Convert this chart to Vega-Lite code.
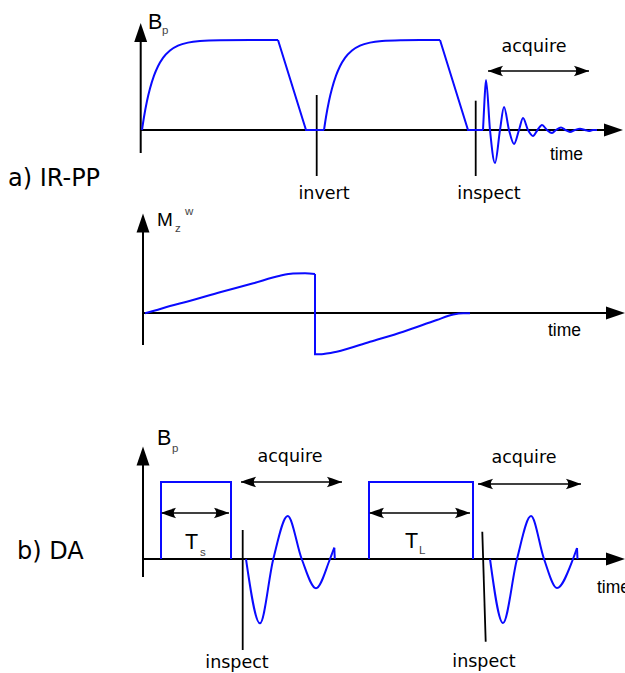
{
  "$schema": "https://vega.github.io/schema/vega-lite/v6.json",
  "width": 625,
  "height": 673,
  "padding": 0,
  "autosize": {"type": "none"},
  "background": "white",
  "config": {"view": {"stroke": null}},
  "datasets": {
    "smooth": [
      {"s": "r1", "x": 142, "y": 130}, {"s": "r1", "x": 144, "y": 117}, {"s": "r1", "x": 147, "y": 101}, {"s": "r1", "x": 150, "y": 88.6}, {"s": "r1", "x": 154, "y": 75.7}, {"s": "r1", "x": 158, "y": 66.3}, {"s": "r1", "x": 163, "y": 57.9}, {"s": "r1", "x": 170, "y": 50.5}, {"s": "r1", "x": 178, "y": 45.7}, {"s": "r1", "x": 188, "y": 42.6}, {"s": "r1", "x": 200, "y": 41}, {"s": "r1", "x": 220, "y": 40.2}, {"s": "r1", "x": 250, "y": 40}, {"s": "r1", "x": 278, "y": 40},
      {"s": "r2", "x": 324, "y": 130}, {"s": "r2", "x": 326, "y": 117}, {"s": "r2", "x": 329, "y": 101}, {"s": "r2", "x": 332, "y": 88.6}, {"s": "r2", "x": 336, "y": 75.7}, {"s": "r2", "x": 340, "y": 66.3}, {"s": "r2", "x": 345, "y": 57.9}, {"s": "r2", "x": 352, "y": 50.5}, {"s": "r2", "x": 360, "y": 45.7}, {"s": "r2", "x": 370, "y": 42.6}, {"s": "r2", "x": 382, "y": 41}, {"s": "r2", "x": 402, "y": 40.2}, {"s": "r2", "x": 420, "y": 40}, {"s": "r2", "x": 440, "y": 40},
      {"s": "os", "x": 483, "y": 130}, {"s": "os", "x": 484.5, "y": 100}, {"s": "os", "x": 486, "y": 80}, {"s": "os", "x": 490, "y": 130}, {"s": "os", "x": 495, "y": 163}, {"s": "os", "x": 500, "y": 130}, {"s": "os", "x": 504, "y": 107}, {"s": "os", "x": 509, "y": 130}, {"s": "os", "x": 514, "y": 144}, {"s": "os", "x": 519, "y": 130}, {"s": "os", "x": 523, "y": 118}, {"s": "os", "x": 528, "y": 130}, {"s": "os", "x": 533, "y": 136}, {"s": "os", "x": 537.5, "y": 130}, {"s": "os", "x": 542, "y": 125}, {"s": "os", "x": 547, "y": 130}, {"s": "os", "x": 552, "y": 133}, {"s": "os", "x": 556, "y": 130}, {"s": "os", "x": 561, "y": 127.5}, {"s": "os", "x": 565.5, "y": 130}, {"s": "os", "x": 570, "y": 132}, {"s": "os", "x": 575, "y": 130}, {"s": "os", "x": 580, "y": 128.7}, {"s": "os", "x": 585, "y": 130}, {"s": "os", "x": 589, "y": 131}, {"s": "os", "x": 593, "y": 130}, {"s": "os", "x": 597, "y": 130},
      {"s": "m1", "x": 145, "y": 313.3}, {"s": "m1", "x": 155, "y": 310.5}, {"s": "m1", "x": 170, "y": 306}, {"s": "m1", "x": 186.7, "y": 301.7}, {"s": "m1", "x": 220, "y": 292.3}, {"s": "m1", "x": 253.3, "y": 283.3}, {"s": "m1", "x": 280, "y": 275.7}, {"s": "m1", "x": 293, "y": 273.6}, {"s": "m1", "x": 305, "y": 273.3}, {"s": "m1", "x": 315, "y": 274},
      {"s": "m3", "x": 322, "y": 354.3}, {"s": "m3", "x": 336.7, "y": 351.7}, {"s": "m3", "x": 370, "y": 341.7}, {"s": "m3", "x": 403.3, "y": 331.7}, {"s": "m3", "x": 436.7, "y": 320}, {"s": "m3", "x": 453.3, "y": 314.5}, {"s": "m3", "x": 463.3, "y": 313.3}, {"s": "m3", "x": 470, "y": 313.3},
      {"s": "o1", "x": 246, "y": 559}, {"s": "o1", "x": 260, "y": 623.3}, {"s": "o1", "x": 273.3, "y": 559}, {"s": "o1", "x": 287.7, "y": 516}, {"s": "o1", "x": 301.7, "y": 559}, {"s": "o1", "x": 316, "y": 588.3}, {"s": "o1", "x": 330, "y": 559}, {"s": "o1", "x": 334.3, "y": 547.7},
      {"s": "o2", "x": 490, "y": 559}, {"s": "o2", "x": 503, "y": 623}, {"s": "o2", "x": 517, "y": 559}, {"s": "o2", "x": 531, "y": 516}, {"s": "o2", "x": 544, "y": 559}, {"s": "o2", "x": 557, "y": 588}, {"s": "o2", "x": 573, "y": 559}, {"s": "o2", "x": 577, "y": 548}
    ],
    "straight": [
      {"s": "t1", "x": 278, "y": 40}, {"s": "t1", "x": 306, "y": 130}, {"s": "t1", "x": 324, "y": 130},
      {"s": "t2", "x": 440, "y": 40}, {"s": "t2", "x": 468, "y": 130}, {"s": "t2", "x": 483, "y": 130},
      {"s": "m2", "x": 315, "y": 274}, {"s": "m2", "x": 315, "y": 354.3}, {"s": "m2", "x": 322, "y": 354.3},
      {"s": "p1", "x": 161, "y": 559}, {"s": "p1", "x": 161, "y": 482}, {"s": "p1", "x": 231, "y": 482}, {"s": "p1", "x": 231, "y": 559},
      {"s": "p2", "x": 369, "y": 559}, {"s": "p2", "x": 369, "y": 482}, {"s": "p2", "x": 473, "y": 482}, {"s": "p2", "x": 473, "y": 559},
      {"s": "e1", "x": 334.3, "y": 547.7}, {"s": "e1", "x": 334.8, "y": 559},
      {"s": "e2", "x": 577, "y": 548}, {"s": "e2", "x": 577.5, "y": 559}
    ],
    "axes": [
      {"x1": 140.7, "y1": 153, "x2": 140.7, "y2": 41},
      {"x1": 140.7, "y1": 130, "x2": 604, "y2": 130},
      {"x1": 143, "y1": 345, "x2": 143, "y2": 232},
      {"x1": 143, "y1": 313, "x2": 607, "y2": 313},
      {"x1": 143, "y1": 577, "x2": 143, "y2": 465},
      {"x1": 143, "y1": 559, "x2": 607, "y2": 559}
    ],
    "markers": [
      {"x1": 316.7, "y1": 95, "x2": 316.7, "y2": 176},
      {"x1": 475.7, "y1": 100.7, "x2": 475.7, "y2": 176},
      {"x1": 242.7, "y1": 530, "x2": 242.7, "y2": 650},
      {"x1": 482.3, "y1": 531.7, "x2": 485.7, "y2": 641.7}
    ],
    "spans": [
      {"x1": 488, "x2": 589, "y": 71},
      {"x1": 161, "x2": 229, "y": 513},
      {"x1": 369, "x2": 470, "y": 513},
      {"x1": 241, "x2": 342, "y": 482},
      {"x1": 478, "x2": 581, "y": 484}
    ],
    "upheads": [
      {"x": 140.7, "y": 32.5}, {"x": 143, "y": 223}, {"x": 143, "y": 456}
    ],
    "rightaxisheads": [
      {"x": 613.5, "y": 130}, {"x": 615.5, "y": 313}, {"x": 615.5, "y": 559}
    ],
    "leftheads": [
      {"x": 496, "y": 71}, {"x": 169, "y": 513}, {"x": 377, "y": 513}, {"x": 249, "y": 482}, {"x": 486, "y": 484}
    ],
    "rightheads": [
      {"x": 581, "y": 71}, {"x": 221, "y": 513}, {"x": 462, "y": 513}, {"x": 334, "y": 482}, {"x": 573, "y": 484}
    ],
    "biglabels": [
      {"x": 8, "y": 186, "t": "a) IR-PP"},
      {"x": 17, "y": 559, "t": "b) DA"}
    ],
    "labels": [
      {"x": 324, "y": 199, "t": "invert"},
      {"x": 489, "y": 199, "t": "inspect"},
      {"x": 534, "y": 52, "t": "acquire"},
      {"x": 290, "y": 462, "t": "acquire"},
      {"x": 524, "y": 463, "t": "acquire"},
      {"x": 237, "y": 668, "t": "inspect"},
      {"x": 484, "y": 667, "t": "inspect"}
    ],
    "timelabels": [
      {"x": 550, "y": 160, "t": "time"},
      {"x": 548, "y": 336, "t": "time"},
      {"x": 597, "y": 593, "t": "time"}
    ],
    "bigsymbols": [
      {"x": 148, "y": 28.5, "t": "B"},
      {"x": 157, "y": 445, "t": "B"},
      {"x": 185, "y": 548.5, "t": "T"},
      {"x": 405, "y": 548, "t": "T"}
    ],
    "msymbols": [
      {"x": 157, "y": 226, "t": "M"}
    ],
    "subs": [
      {"x": 162, "y": 34, "t": "p"},
      {"x": 175, "y": 232, "t": "z"},
      {"x": 185, "y": 215, "t": "w"},
      {"x": 172, "y": 452, "t": "p"},
      {"x": 200, "y": 556, "t": "s"},
      {"x": 419, "y": 554, "t": "L"}
    ]
  },
  "layer": [
    {
      "data": {"name": "axes"},
      "mark": {"type": "rule", "color": "#000000", "strokeWidth": 2},
      "encoding": {
        "x": {"field": "x1", "type": "quantitative", "scale": {"domain": [0, 625], "nice": false, "zero": false}, "axis": null},
        "y": {"field": "y1", "type": "quantitative", "scale": {"domain": [0, 673], "reverse": true, "nice": false, "zero": false}, "axis": null},
        "x2": {"field": "x2"},
        "y2": {"field": "y2"}
      }
    },
    {
      "data": {"name": "markers"},
      "mark": {"type": "rule", "color": "#000000", "strokeWidth": 1.8},
      "encoding": {
        "x": {"field": "x1", "type": "quantitative", "scale": {"domain": [0, 625], "nice": false, "zero": false}, "axis": null},
        "y": {"field": "y1", "type": "quantitative", "scale": {"domain": [0, 673], "reverse": true, "nice": false, "zero": false}, "axis": null},
        "x2": {"field": "x2"},
        "y2": {"field": "y2"}
      }
    },
    {
      "data": {"name": "spans"},
      "mark": {"type": "rule", "color": "#000000", "strokeWidth": 1.5},
      "encoding": {
        "x": {"field": "x1", "type": "quantitative", "scale": {"domain": [0, 625], "nice": false, "zero": false}, "axis": null},
        "y": {"field": "y", "type": "quantitative", "scale": {"domain": [0, 673], "reverse": true, "nice": false, "zero": false}, "axis": null},
        "x2": {"field": "x2"}
      }
    },
    {
      "data": {"name": "straight"},
      "mark": {"type": "line", "color": "#0a0aff", "strokeWidth": 2, "interpolate": "linear", "strokeJoin": "miter"},
      "encoding": {
        "x": {"field": "x", "type": "quantitative", "scale": {"domain": [0, 625], "nice": false, "zero": false}, "axis": null},
        "y": {"field": "y", "type": "quantitative", "scale": {"domain": [0, 673], "reverse": true, "nice": false, "zero": false}, "axis": null},
        "detail": {"field": "s", "type": "nominal"},
        "order": {"value": null}
      }
    },
    {
      "data": {"name": "smooth"},
      "mark": {"type": "line", "color": "#0a0aff", "strokeWidth": 2, "interpolate": "monotone"},
      "encoding": {
        "x": {"field": "x", "type": "quantitative", "scale": {"domain": [0, 625], "nice": false, "zero": false}, "axis": null},
        "y": {"field": "y", "type": "quantitative", "scale": {"domain": [0, 673], "reverse": true, "nice": false, "zero": false}, "axis": null},
        "detail": {"field": "s", "type": "nominal"},
        "order": {"value": null}
      }
    },
    {
      "data": {"name": "upheads"},
      "mark": {"type": "point", "shape": "M0,-1L0.68,1L-0.68,1Z", "size": 361, "filled": true, "opacity": 1, "color": "#000000", "strokeWidth": 0},
      "encoding": {
        "x": {"field": "x", "type": "quantitative", "scale": {"domain": [0, 625], "nice": false, "zero": false}, "axis": null},
        "y": {"field": "y", "type": "quantitative", "scale": {"domain": [0, 673], "reverse": true, "nice": false, "zero": false}, "axis": null}
      }
    },
    {
      "data": {"name": "rightaxisheads"},
      "mark": {"type": "point", "shape": "M1,0L-1,-0.68L-1,0.68Z", "size": 361, "filled": true, "opacity": 1, "color": "#000000", "strokeWidth": 0},
      "encoding": {
        "x": {"field": "x", "type": "quantitative", "scale": {"domain": [0, 625], "nice": false, "zero": false}, "axis": null},
        "y": {"field": "y", "type": "quantitative", "scale": {"domain": [0, 673], "reverse": true, "nice": false, "zero": false}, "axis": null}
      }
    },
    {
      "data": {"name": "leftheads"},
      "mark": {"type": "point", "shape": "M-1,0C-0.6,-0.15 0,-0.4 0.9,-0.65C0.5,-0.25 0.5,0.25 0.9,0.65C0,0.4 -0.6,0.15 -1,0Z", "size": 256, "filled": true, "opacity": 1, "color": "#000000", "strokeWidth": 0},
      "encoding": {
        "x": {"field": "x", "type": "quantitative", "scale": {"domain": [0, 625], "nice": false, "zero": false}, "axis": null},
        "y": {"field": "y", "type": "quantitative", "scale": {"domain": [0, 673], "reverse": true, "nice": false, "zero": false}, "axis": null}
      }
    },
    {
      "data": {"name": "rightheads"},
      "mark": {"type": "point", "shape": "M1,0C0.6,-0.15 0,-0.4 -0.9,-0.65C-0.5,-0.25 -0.5,0.25 -0.9,0.65C0,0.4 0.6,0.15 1,0Z", "size": 256, "filled": true, "opacity": 1, "color": "#000000", "strokeWidth": 0},
      "encoding": {
        "x": {"field": "x", "type": "quantitative", "scale": {"domain": [0, 625], "nice": false, "zero": false}, "axis": null},
        "y": {"field": "y", "type": "quantitative", "scale": {"domain": [0, 673], "reverse": true, "nice": false, "zero": false}, "axis": null}
      }
    },
    {
      "data": {"name": "biglabels"},
      "mark": {"type": "text", "font": "DejaVu Sans", "fontSize": 24, "align": "left", "baseline": "alphabetic", "color": "#000000"},
      "encoding": {
        "x": {"field": "x", "type": "quantitative", "scale": {"domain": [0, 625], "nice": false, "zero": false}, "axis": null},
        "y": {"field": "y", "type": "quantitative", "scale": {"domain": [0, 673], "reverse": true, "nice": false, "zero": false}, "axis": null},
        "text": {"field": "t", "type": "nominal"}
      }
    },
    {
      "data": {"name": "labels"},
      "mark": {"type": "text", "font": "DejaVu Sans", "fontSize": 17.5, "align": "center", "baseline": "alphabetic", "color": "#000000"},
      "encoding": {
        "x": {"field": "x", "type": "quantitative", "scale": {"domain": [0, 625], "nice": false, "zero": false}, "axis": null},
        "y": {"field": "y", "type": "quantitative", "scale": {"domain": [0, 673], "reverse": true, "nice": false, "zero": false}, "axis": null},
        "text": {"field": "t", "type": "nominal"}
      }
    },
    {
      "data": {"name": "timelabels"},
      "mark": {"type": "text", "font": "Liberation Sans", "fontSize": 17.5, "align": "left", "baseline": "alphabetic", "color": "#000000"},
      "encoding": {
        "x": {"field": "x", "type": "quantitative", "scale": {"domain": [0, 625], "nice": false, "zero": false}, "axis": null},
        "y": {"field": "y", "type": "quantitative", "scale": {"domain": [0, 673], "reverse": true, "nice": false, "zero": false}, "axis": null},
        "text": {"field": "t", "type": "nominal"}
      }
    },
    {
      "data": {"name": "bigsymbols"},
      "mark": {"type": "text", "font": "Liberation Sans", "fontSize": 21.5, "align": "left", "baseline": "alphabetic", "color": "#000000"},
      "encoding": {
        "x": {"field": "x", "type": "quantitative", "scale": {"domain": [0, 625], "nice": false, "zero": false}, "axis": null},
        "y": {"field": "y", "type": "quantitative", "scale": {"domain": [0, 673], "reverse": true, "nice": false, "zero": false}, "axis": null},
        "text": {"field": "t", "type": "nominal"}
      }
    },
    {
      "data": {"name": "msymbols"},
      "mark": {"type": "text", "font": "Liberation Sans", "fontSize": 19, "align": "left", "baseline": "alphabetic", "color": "#000000"},
      "encoding": {
        "x": {"field": "x", "type": "quantitative", "scale": {"domain": [0, 625], "nice": false, "zero": false}, "axis": null},
        "y": {"field": "y", "type": "quantitative", "scale": {"domain": [0, 673], "reverse": true, "nice": false, "zero": false}, "axis": null},
        "text": {"field": "t", "type": "nominal"}
      }
    },
    {
      "data": {"name": "subs"},
      "mark": {"type": "text", "font": "Liberation Sans", "fontSize": 11.5, "align": "left", "baseline": "alphabetic", "color": "#444444"},
      "encoding": {
        "x": {"field": "x", "type": "quantitative", "scale": {"domain": [0, 625], "nice": false, "zero": false}, "axis": null},
        "y": {"field": "y", "type": "quantitative", "scale": {"domain": [0, 673], "reverse": true, "nice": false, "zero": false}, "axis": null},
        "text": {"field": "t", "type": "nominal"}
      }
    }
  ]
}
